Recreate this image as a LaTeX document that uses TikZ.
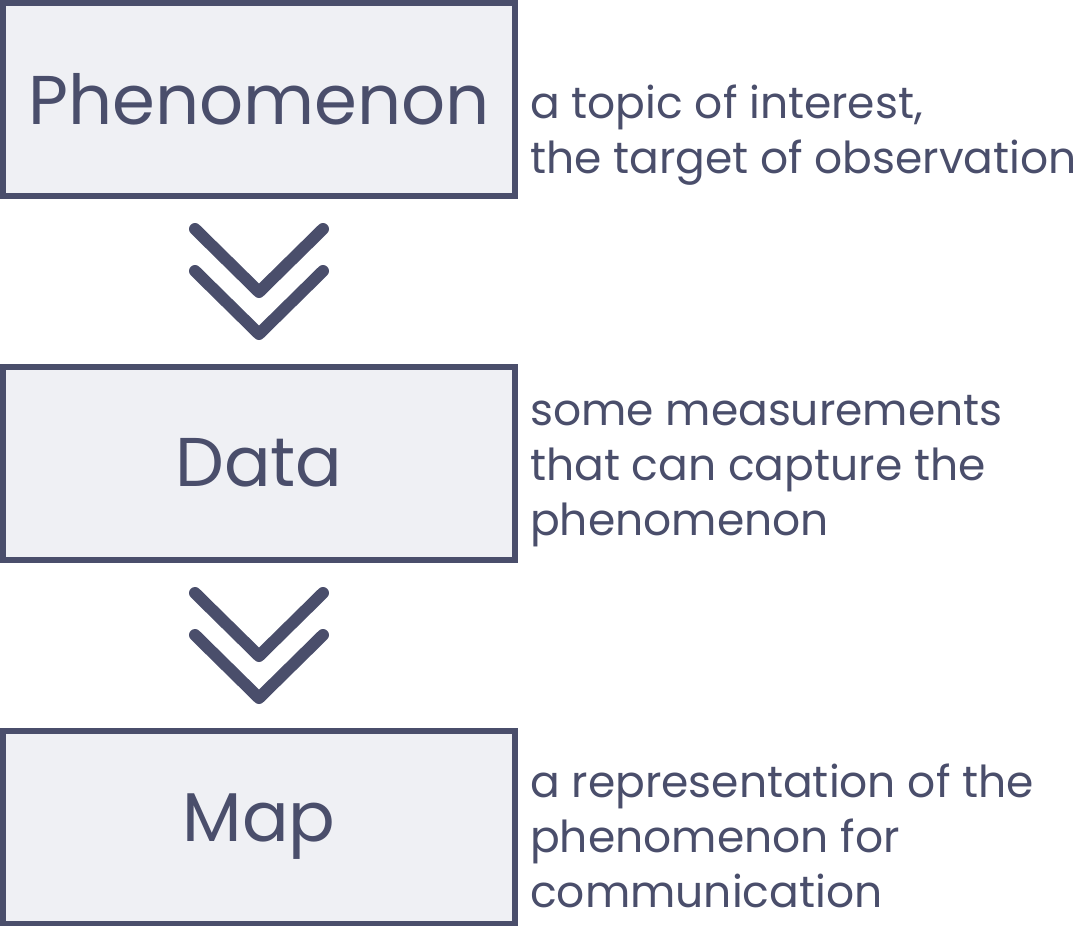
\documentclass[tikz,border=0pt]{standalone}
\usepackage{fontspec}
\setmainfont{Poppins}
\usetikzlibrary{calc}
\definecolor{ink}{HTML}{4A4E6B}
\definecolor{paper}{HTML}{EFF0F4}
\tikzset{
  stage/.style={draw=ink, fill=paper, line width=6pt, minimum width=512pt,
    minimum height=193pt, inner sep=0pt, text=ink,
    font=\fontsize{69}{69}\selectfont},
  desc/.style={text=ink, align=left, inner sep=0pt, anchor=base west,
    font=\fontsize{44}{55}\selectfont},
  chev/.style={draw=ink, line width=12pt, line cap=round, line join=round},
}
\begin{document}
\begin{tikzpicture}[x=1pt, y=-1pt]
  \useasboundingbox (0,0) rectangle (1077,926);
  % the three stages
  \node[stage] (phen) at (259,99)  {Phenomenon};
  \node[stage] (data) at (259,463) {Data};
  \node[stage] (map)  at (259,827) {Map};
  % notes beside each stage (anchored on their last line)
  \node[desc] (phendesc) at (530,173) {a topic of interest,\\the target of observation};
  \node[desc] (datadesc) at (530,535) {some measurements\\that can capture the\\phenomenon};
  \node[desc] (mapdesc)  at (530,907) {a representation of the\\phenomenon for\\communication};
  % double chevrons between the stages
  \coordinate (c1) at ($(phen.south)!0.5!(data.north)$);
  \coordinate (c2) at ($(data.south)!0.5!(map.north)$);
  \foreach \c in {c1,c2}{
    \draw[chev] ($(\c)+(-64,-52)$) -- ++(64,63) -- ++(64,-63);
    \draw[chev] ($(\c)+(-64,-10)$) -- ++(64,63) -- ++(64,-63);
  }
\end{tikzpicture}
\end{document}
